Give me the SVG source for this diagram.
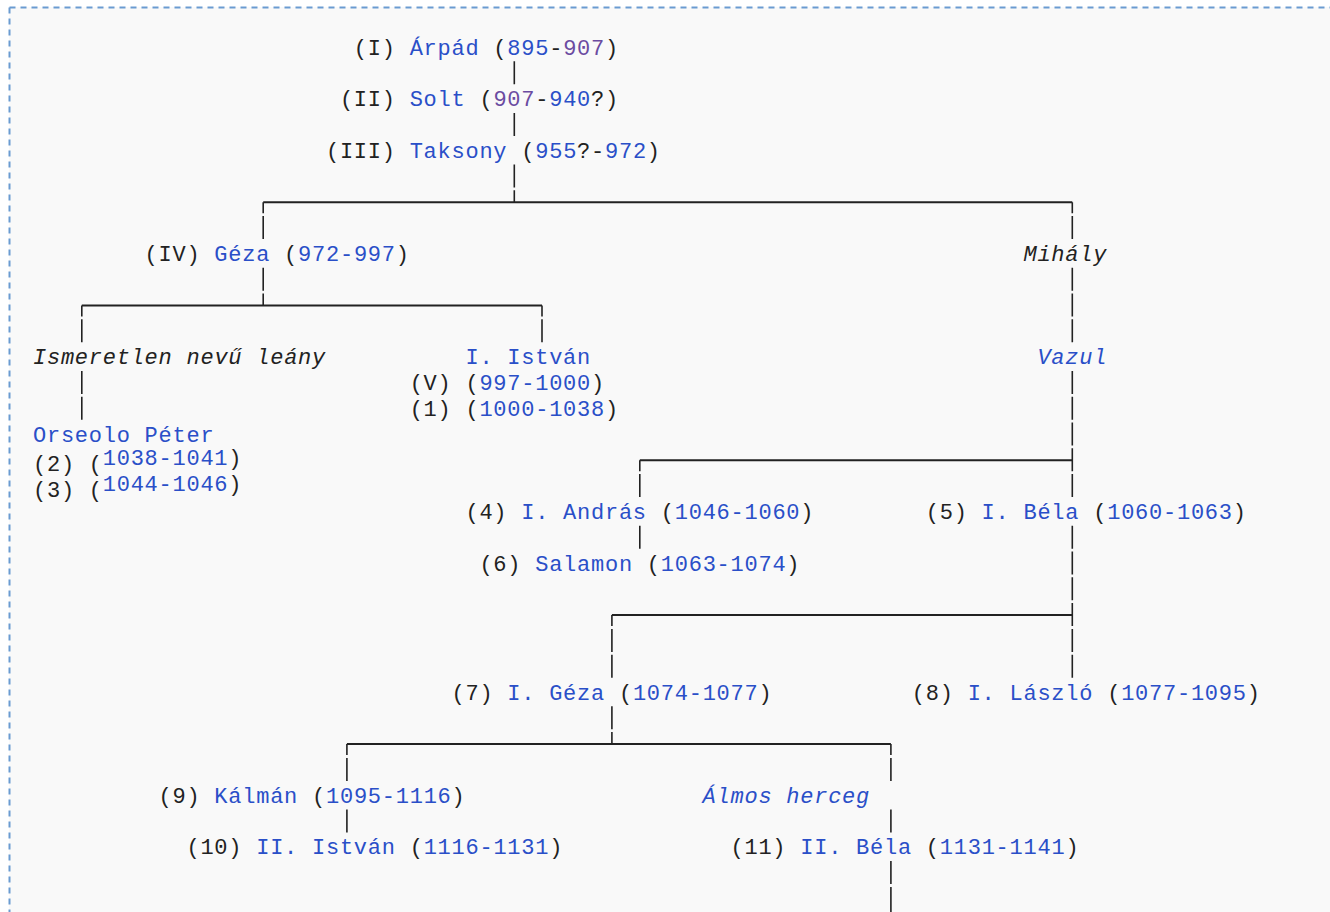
<svg xmlns="http://www.w3.org/2000/svg" width="1330" height="912" viewBox="0 0 1330 912" xml:space="preserve">
<style>
.t{font-family:"Liberation Mono","DejaVu Sans Mono",monospace;font-size:22px;letter-spacing:0.75px;fill:#222;white-space:pre}
.l{fill:#2a4fc8}
.v{fill:#6b4ba1}
.i{font-style:italic}
.vl{fill:none;stroke:#222;stroke-width:1.6}
.hl{fill:none;stroke:#222;stroke-width:2}
</style>
<rect x="0" y="0" width="1330" height="912" fill="#ffffff"/>
<rect x="9" y="7" width="1330" height="920" fill="#f9f9f9"/>
<path d="M9.5 7.5 H1330 M9.5 7.5 V912" fill="none" stroke="#6a9bd1" stroke-width="2" stroke-dasharray="6 5"/>
<g id="connectors">
<path class="hl" d="M263.2 202.3 H1072.3 M81.8 305.5 H542 M639.8 460.3 H1072.3 M611.9 615.1 H1072.3 M346.9 744.1 H890.9"/>
<path class="vl" d="M514.3 61.3 V84.3 M514.3 112.9 V135.9 M514.3 164.5 V187.5 M514.3 190.3 V202.3
M263.2 202.3 V213.3 M263.2 216.1 V239.1 M263.2 267.7 V290.7 M263.2 293.5 V305.5
M1072.3 202.3 V213.3 M1072.3 216.1 V239.1 M1072.3 267.7 V290.7 M1072.3 293.5 V316.5 M1072.3 319.3 V342.3 M1072.3 370.9 V393.9 M1072.3 396.7 V419.7 M1072.3 422.5 V445.5 M1072.3 448.3 V471.3 M1072.3 474.1 V497.1 M1072.3 525.7 V548.7 M1072.3 551.5 V574.5 M1072.3 577.3 V600.3 M1072.3 603.1 V626.1 M1072.3 628.9 V651.9 M1072.3 654.7 V677.7
M81.8 305.5 V316.5 M81.8 319.3 V342.3 M81.8 370.9 V393.9 M81.8 396.7 V419.7
M542 305.5 V316.5 M542 319.3 V342.3
M639.8 460.3 V471.3 M639.8 474.1 V497.1 M639.8 525.7 V548.7
M611.9 615.1 V626.1 M611.9 628.9 V651.9 M611.9 654.7 V677.7 M611.9 706.3 V729.3 M611.9 732.1 V744.1
M346.9 744.1 V755.1 M346.9 757.9 V780.9 M346.9 809.5 V832.5
M890.9 744.1 V755.1 M890.9 757.9 V780.9 M890.9 809.5 V832.5 M890.9 861.1 V884.1 M890.9 886.9 V912"/>
</g>
<g id="arpad"><text class="t" x="353.85" y="54.5">(I) <tspan class="l">Árpád</tspan> (<tspan class="l">895</tspan>-<tspan class="v">907</tspan>)</text></g>
<g id="solt"><text class="t" x="339.9" y="106.1">(II) <tspan class="l">Solt</tspan> (<tspan class="v">907</tspan>-<tspan class="l">940</tspan>?)</text></g>
<g id="taksony"><text class="t" x="325.95" y="157.7">(III) <tspan class="l">Taksony</tspan> (<tspan class="l">955</tspan>?-<tspan class="l">972</tspan>)</text></g>
<g id="geza"><text class="t" x="144.6" y="260.9">(IV) <tspan class="l">Géza</tspan> (<tspan class="l">972-997</tspan>)</text></g>
<g id="mihaly"><text class="t i" x="1023.45" y="260.9">Mihály</text></g>
<g id="leany"><text class="t i" x="33" y="364.1">Ismeretlen nevű leány</text></g>
<g id="istvan1"><text class="t l" x="465.45" y="364.1">I. István</text><text class="t" x="409.65" y="389.9">(V) (<tspan class="l">997-1000</tspan>)</text><text class="t" x="409.65" y="415.7">(1) (<tspan class="l">1000-1038</tspan>)</text></g>
<g id="vazul"><text class="t i l" x="1037.4" y="364.1">Vazul</text></g>
<g id="peter"><text class="t l" x="33" y="441.5">Orseolo Péter</text><text class="t" x="33" y="471.3">(2) (</text><text class="t" x="102.75" y="465.3"><tspan class="l">1038-1041</tspan>)</text><text class="t" x="33" y="497.1">(3) (</text><text class="t" x="102.75" y="491.1"><tspan class="l">1044-1046</tspan>)</text></g>
<g id="andras"><text class="t" x="465.45" y="518.9">(4) <tspan class="l">I. András</tspan> (<tspan class="l">1046-1060</tspan>)</text></g>
<g id="bela1"><text class="t" x="925.8" y="518.9">(5) <tspan class="l">I. Béla</tspan> (<tspan class="l">1060-1063</tspan>)</text></g>
<g id="salamon"><text class="t" x="479.4" y="570.5">(6) <tspan class="l">Salamon</tspan> (<tspan class="l">1063-1074</tspan>)</text></g>
<g id="geza1"><text class="t" x="451.5" y="699.5">(7) <tspan class="l">I. Géza</tspan> (<tspan class="l">1074-1077</tspan>)</text></g>
<g id="laszlo"><text class="t" x="911.85" y="699.5">(8) <tspan class="l">I. László</tspan> (<tspan class="l">1077-1095</tspan>)</text></g>
<g id="kalman"><text class="t" x="158.55" y="802.7">(9) <tspan class="l">Kálmán</tspan> (<tspan class="l">1095-1116</tspan>)</text></g>
<g id="almos"><text class="t i l" x="702.6" y="802.7">Álmos herceg</text></g>
<g id="istvan2"><text class="t" x="186.45" y="854.3">(10) <tspan class="l">II. István</tspan> (<tspan class="l">1116-1131</tspan>)</text></g>
<g id="bela2"><text class="t" x="730.5" y="854.3">(11) <tspan class="l">II. Béla</tspan> (<tspan class="l">1131-1141</tspan>)</text></g>
</svg>
